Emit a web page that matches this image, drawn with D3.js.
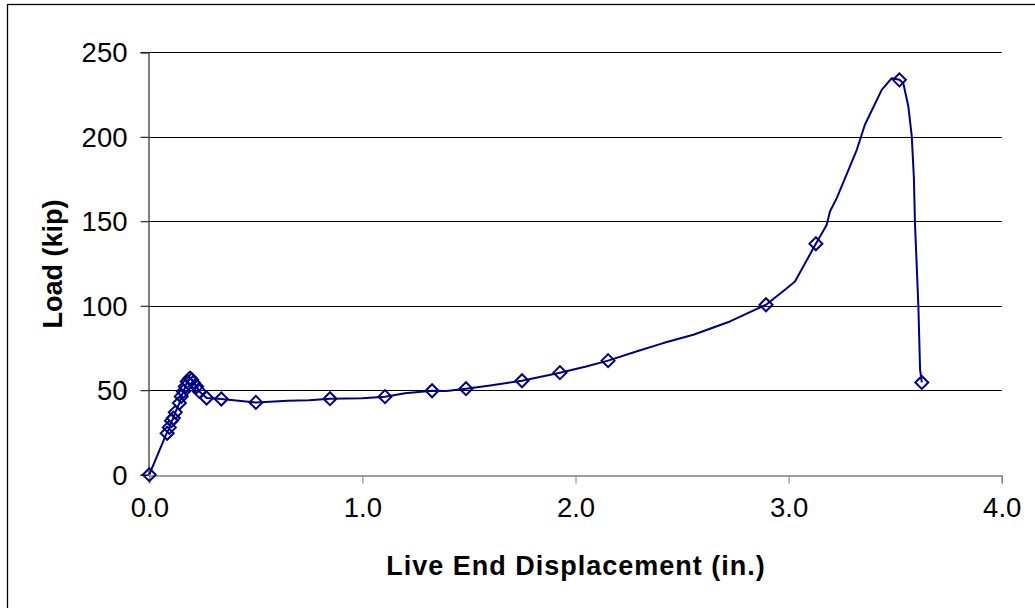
<!DOCTYPE html>
<html>
<head>
<meta charset="utf-8">
<script src="https://cdn.jsdelivr.net/npm/d3@7"></script>
<style>
  html, body { margin: 0; padding: 0; background: #fff; }
  svg { display: block; }
  text { font-family: "Liberation Sans", Arial, sans-serif; fill: #000; }
</style>
</head>
<body>
<svg id="chart" width="1035" height="608"></svg>
<script>
// Load–displacement record (dense trace, drawn as a line)
const curveDisp = [0, 0.082, 0.094, 0.1, 0.113, 0.122, 0.141, 0.15, 0.16, 0.169, 0.178, 0.191, 0.199, 0.206, 0.222, 0.235, 0.269, 0.338, 0.5, 0.65, 0.75, 0.848, 1.0, 1.106, 1.2, 1.327, 1.395, 1.486, 1.6, 1.749, 1.927, 2.05, 2.153, 2.3, 2.412, 2.553, 2.725, 2.894, 2.983, 3.03, 3.128, 3.179, 3.194, 3.226, 3.32, 3.358, 3.437, 3.484, 3.52, 3.538, 3.562, 3.578, 3.588, 3.593, 3.609, 3.617, 3.625];
const curveLoad = [0, 24.7, 27.5, 30.6, 33.5, 36.9, 42.4, 46.3, 49.3, 52.2, 55.2, 57.2, 56.2, 54.6, 52.2, 49.3, 45.4, 44.8, 42.8, 43.8, 44.0, 45.0, 45.2, 46.2, 48.2, 49.7, 49.6, 50.9, 52.8, 55.6, 60.4, 64.0, 67.5, 73.5, 77.9, 82.8, 90.7, 100.6, 109.5, 114.4, 136.7, 147.9, 155.8, 163.7, 192.3, 207.1, 227.8, 234.7, 233.7, 231.8, 217.9, 200.2, 175.6, 148.9, 99.6, 62.1, 54.6];

// Recorded readings (diamond markers)
const pointDisp = [0, 0.084, 0.094, 0.104, 0.113, 0.122, 0.141, 0.15, 0.16, 0.169, 0.178, 0.191, 0.199, 0.206, 0.222, 0.235, 0.269, 0.338, 0.5, 0.848, 1.106, 1.327, 1.486, 1.749, 1.927, 2.153, 2.894, 3.128, 3.52, 3.625];
const pointLoad = [0, 24.5, 28.0, 32.0, 33.5, 36.9, 42.4, 46.3, 49.3, 52.2, 55.2, 57.2, 56.2, 54.6, 52.2, 49.3, 45.4, 44.8, 42.8, 45.0, 46.2, 49.7, 50.9, 55.6, 60.4, 67.5, 100.6, 136.7, 233.7, 54.6];

const xTicks = [0, 1, 2, 3, 4];
const yTicks = [0, 50, 100, 150, 200, 250];
const xTitle = "Live End Displacement (in.)";
const yTitle = "Load (kip)";

const svg = d3.select("#chart");
const navy = "#000080";

const x = d3.scaleLinear().domain([0, 4]).range([149.3, 1001.7]);
const y = d3.scaleLinear().domain([0, 250]).range([474.7, 52.3]);

// outer chart frame (continues past the right and bottom edges)
svg.append("rect")
  .attr("x", 7.5).attr("y", 4.5)
  .attr("width", 1040).attr("height", 620)
  .attr("fill", "none").attr("stroke", "#000").attr("stroke-width", 1.3);

// horizontal gridlines
svg.append("g")
  .selectAll("line")
  .data(yTicks.filter(d => d > 0))
  .join("line")
  .attr("x1", x(0)).attr("x2", x(4))
  .attr("y1", d => Math.round(y(d)) + 0.5).attr("y2", d => Math.round(y(d)) + 0.5)
  .attr("stroke", "#000").attr("stroke-width", 1);

// y axis
const yAxis = svg.append("g")
  .attr("transform", `translate(${Math.round(x(0)) - 0.5},0)`)
  .call(d3.axisLeft(y).tickValues(yTicks).tickFormat(d3.format("d")).tickSize(8).tickPadding(13));
yAxis.select(".domain").attr("stroke", "#000").attr("stroke-width", 1);
yAxis.selectAll(".tick line").attr("stroke", "#000");
yAxis.selectAll(".tick text")
  .attr("font-family", "Liberation Sans, Arial, sans-serif")
  .attr("font-size", 27.5).attr("dy", "0.35em");

// x axis
const xAxis = svg.append("g")
  .attr("transform", `translate(0,${Math.round(y(0)) + 0.5})`)
  .call(d3.axisBottom(x).tickValues(xTicks).tickFormat(d3.format(".1f")).tickSize(8).tickPadding(14));
xAxis.select(".domain").attr("stroke", "#808080").attr("stroke-width", 1.3);
xAxis.selectAll(".tick line").attr("stroke", "#808080");
xAxis.selectAll(".tick text")
  .attr("font-family", "Liberation Sans, Arial, sans-serif")
  .attr("font-size", 27.5);

// axis titles
svg.append("text")
  .attr("x", 576).attr("y", 575)
  .attr("text-anchor", "middle")
  .attr("font-size", 27).attr("font-weight", "bold")
  .attr("letter-spacing", 1.0)
  .text(xTitle);

svg.append("text")
  .attr("transform", "translate(62,264) rotate(-90)")
  .attr("text-anchor", "middle")
  .attr("font-size", 27).attr("font-weight", "bold")
  .text(yTitle);

// load trace
const curve = curveDisp.map((d, i) => [d, curveLoad[i]]);
svg.append("path")
  .datum(curve)
  .attr("fill", "none")
  .attr("stroke", navy)
  .attr("stroke-width", 2)
  .attr("stroke-linejoin", "round")
  .attr("d", d3.line().x(d => x(d[0])).y(d => y(d[1])).curve(d3.curveLinear));

// diamond markers
const pts = pointDisp.map((d, i) => [d, pointLoad[i]]);
const diamond = "M0,-6.5L6.5,0L0,6.5L-6.5,0Z";
svg.append("g")
  .selectAll("path")
  .data(pts)
  .join("path")
  .attr("transform", d => `translate(${x(d[0])},${y(d[1])})`)
  .attr("d", diamond)
  .attr("fill", "none")
  .attr("stroke", navy)
  .attr("stroke-width", 2);
</script>
</body>
</html>
